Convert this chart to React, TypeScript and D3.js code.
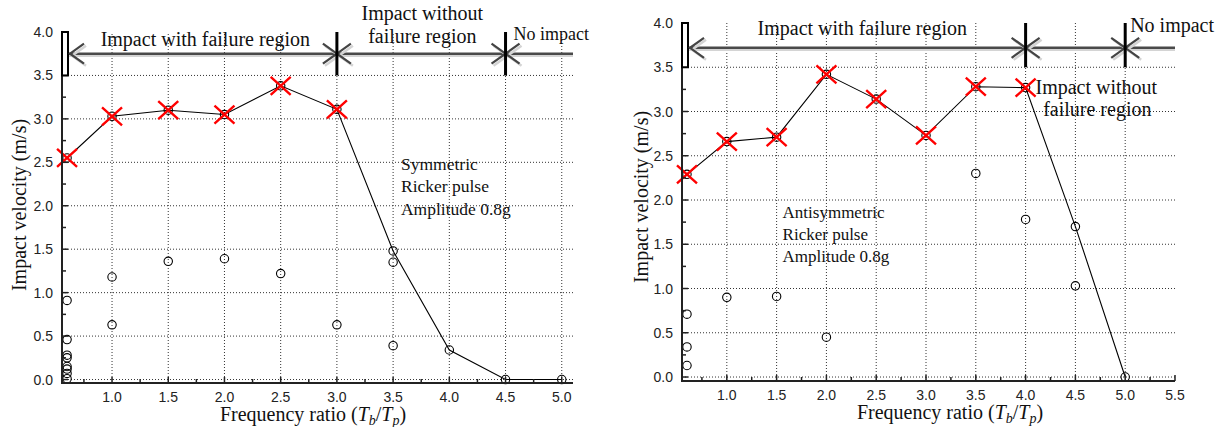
import React from "react";
import * as d3 from "d3";

// ---- data ----
const freqRatios = [0.6, 1.0, 1.5, 2.0, 2.5, 3.0, 3.5, 4.0, 4.5, 5.0];

// symmetric Ricker pulse (left)
const symLine = [2.55, 3.03, 3.1, 3.05, 3.38, 3.11, 1.48, 0.34, 0.0, 0.0];
const symFailure = [true, true, true, true, true, true, false, false, false, false];
const symScatterX = [0.6, 0.6, 0.6, 0.6, 0.6, 0.6, 0.6, 0.6, 1.0, 1.0, 1.5, 2.0, 2.5, 3.0, 3.5, 3.5];
const symScatterY = [0.91, 0.46, 0.28, 0.25, 0.15, 0.12, 0.07, 0.01, 1.18, 0.63, 1.36, 1.39, 1.22, 0.63, 1.35, 0.39];
const symBounds = [3.0, 4.5];

// antisymmetric Ricker pulse (right)
const antiLine = [2.29, 2.66, 2.71, 3.42, 3.14, 2.73, 3.28, 3.27, 1.7, 0.0];
const antiFailure = [true, true, true, true, true, true, true, true, false, false];
const antiScatterX = [0.6, 0.6, 0.6, 1.0, 1.5, 2.0, 3.5, 4.0, 4.5];
const antiScatterY = [0.71, 0.34, 0.13, 0.9, 0.91, 0.45, 2.3, 1.78, 1.03];
const antiBounds = [4.0, 5.0];

const yTicks = [0.0, 0.5, 1.0, 1.5, 2.0, 2.5, 3.0, 3.5, 4.0];
const yGrid = [0.0, 0.5, 1.0, 1.5, 2.0, 2.5, 3.0, 3.5];
const xTicksLeft = [1.0, 1.5, 2.0, 2.5, 3.0, 3.5, 4.0, 4.5, 5.0];
const xTicksRight = [1.0, 1.5, 2.0, 2.5, 3.0, 3.5, 4.0, 4.5, 5.0, 5.5];
const xGrid = [1.0, 1.5, 2.0, 2.5, 3.0, 3.5, 4.0, 4.5, 5.0];

const serif = "'Liberation Serif', 'Times New Roman', serif";
const sans = "'Liberation Sans', Arial, sans-serif";

type Note = { text: string; x: number; y: number; size: number; anchor: string };

type PanelProps = {
  left: number;
  right: number;
  top: number;
  bottom: number;
  xDomain: [number, number];
  yMin: number;
  xTicks: number[];
  line: number[];
  failure: boolean[];
  scX: number[];
  scY: number[];
  bounds: number[];
  arrowY: number;
  notes: Note[];
  yLabelX: number;
  yLabelY: number;
  xLabelX: number;
  xLabelY: number;
  tickBaseline: number;
};

const Chevron = ({ x, y, dir }: { x: number; y: number; dir: number }) => {
  // dir = -1 points left, +1 points right
  const d = `M${x - dir * 14},${y - 10} L${x},${y} L${x - dir * 14},${y + 10}`;
  return (
    <g fill="none">
      <path d={d} transform="translate(2,2)" stroke="#d4d4d4" strokeWidth={2.5} />
      <path d={d} stroke="#444" strokeWidth={2.2} />
    </g>
  );
};

const Panel = (p: PanelProps) => {
  const x = d3.scaleLinear().domain(p.xDomain).range([p.left, p.right]);
  const y = d3.scaleLinear().domain([p.yMin, 4.0]).range([p.bottom, p.top]);
  const lineGen = d3
    .line<number>()
    .x((_, i) => x(freqRatios[i]))
    .y((d) => y(d));

  const xMinor = d3.range(0.75, p.xDomain[1] + 0.001, 0.25);
  const yMinor = d3.range(0, 4.001, 0.25);
  const ay = y(p.arrowY);
  const barTop = y(4.0);
  const barBot = y(3.5);
  const x0 = p.left;

  return (
    <g>
      {/* grid */}
      {yGrid.map((v) => (
        <line key={"gy" + v} x1={p.left} x2={p.right} y1={y(v)} y2={y(v)} stroke="#333" strokeWidth={1} strokeDasharray="1,2" />
      ))}
      {xGrid.map((v) => (
        <line key={"gx" + v} x1={x(v)} x2={x(v)} y1={p.bottom} y2={p.top} stroke="#333" strokeWidth={1} strokeDasharray="1,2" />
      ))}

      {/* series */}
      <path d={lineGen(p.line) || ""} fill="none" stroke="#000" strokeWidth={1.1} />
      {p.scX.map((v, i) => (
        <circle key={"s" + i} cx={x(v)} cy={y(p.scY[i])} r={4.2} fill="none" stroke="#000" strokeWidth={1.1} />
      ))}
      {p.line.map((v, i) => (
        <circle key={"c" + i} cx={x(freqRatios[i])} cy={y(v)} r={4.2} fill="none" stroke="#000" strokeWidth={1.1} />
      ))}
      {p.line.map((v, i) =>
        p.failure[i] ? (
          <path
            key={"x" + i}
            d={`M${x(freqRatios[i]) - 10},${y(v) - 9} L${x(freqRatios[i]) + 10},${y(v) + 9} M${x(freqRatios[i]) - 10},${y(v) + 9} L${x(freqRatios[i]) + 10},${y(v) - 9}`}
            stroke="#ff0000"
            strokeWidth={2.4}
            fill="none"
          />
        ) : null
      )}

      {/* axes */}
      <line x1={x0} x2={x0} y1={p.top} y2={p.bottom + 1} stroke="#222" strokeWidth={2} />
      <line x1={x0 - 1} x2={p.right} y1={p.bottom} y2={p.bottom} stroke="#222" strokeWidth={2} />
      {yMinor.map((v, i) => (
        <line key={"yt" + i} x1={x0} x2={x0 + (i % 2 === 0 ? 6 : 4)} y1={y(v)} y2={y(v)} stroke="#222" strokeWidth={1.5} />
      ))}
      {xMinor.map((v, i) => (
        <line key={"xt" + i} x1={x(v)} x2={x(v)} y1={p.bottom} y2={p.bottom - (i % 2 === 1 ? 6 : 4)} stroke="#222" strokeWidth={1.5} />
      ))}
      {yTicks.map((v) => (
        <text key={"yl" + v} x={x0 - 9} y={y(v) + 5} textAnchor="end" fontFamily={sans} fontSize={14} fill="#222">
          {v.toFixed(1)}
        </text>
      ))}
      {p.xTicks.map((v) => (
        <text key={"xl" + v} x={x(v)} y={p.tickBaseline} textAnchor="middle" fontFamily={sans} fontSize={14} fill="#222">
          {v.toFixed(1)}
        </text>
      ))}

      {/* region arrows */}
      <line x1={x0 + 6} x2={p.right} y1={ay + 2} y2={ay + 2} stroke="#d4d4d4" strokeWidth={2.5} />
      <line x1={x0 + 6} x2={p.right} y1={ay} y2={ay} stroke="#4a4a4a" strokeWidth={2.5} />
      <rect x={x0} y={barTop} width={6} height={barBot - barTop} fill="#fff" stroke="#000" strokeWidth={2} />
      <Chevron x={x0 + 8} y={ay} dir={-1} />
      {p.bounds.map((b) => (
        <g key={"b" + b}>
          <Chevron x={x(b)} y={ay} dir={1} />
          <Chevron x={x(b)} y={ay} dir={-1} />
          <line x1={x(b)} x2={x(b)} y1={barTop} y2={barBot} stroke="#000" strokeWidth={3} />
        </g>
      ))}

      {/* annotations */}
      {p.notes.map((n, i) => (
        <text key={"n" + i} x={x(n.x)} y={y(n.y)} textAnchor={n.anchor} fontFamily={serif} fontSize={n.size} fill="#111">
          {n.text}
        </text>
      ))}

      {/* axis titles */}
      <text
        transform={`translate(${p.yLabelX},${p.yLabelY}) rotate(-90)`}
        textAnchor="middle"
        fontFamily={serif}
        fontSize={20}
        fill="#111"
      >
        Impact velocity (m/s)
      </text>
      <text x={p.xLabelX} y={p.xLabelY} textAnchor="middle" fontFamily={serif} fontSize={20} fill="#111">
        Frequency ratio (<tspan fontStyle="italic">T</tspan>
        <tspan fontStyle="italic" fontSize={14} dy={4}>b</tspan>
        <tspan dy={-4}>/</tspan>
        <tspan fontStyle="italic">T</tspan>
        <tspan fontStyle="italic" fontSize={14} dy={4}>p</tspan>
        <tspan dy={-4}>)</tspan>
      </text>
    </g>
  );
};

const symNotes: Note[] = [
  { text: "Impact with failure region", x: 1.83, y: 3.84, size: 20, anchor: "middle" },
  { text: "Impact without", x: 3.76, y: 4.14, size: 20, anchor: "middle" },
  { text: "failure region", x: 3.76, y: 3.87, size: 20, anchor: "middle" },
  { text: "No impact", x: 4.57, y: 3.91, size: 18, anchor: "start" },
  { text: "Symmetric", x: 3.57, y: 2.41, size: 17.5, anchor: "start" },
  { text: "Ricker pulse", x: 3.57, y: 2.16, size: 17.5, anchor: "start" },
  { text: "Amplitude 0.8g", x: 3.57, y: 1.89, size: 17.5, anchor: "start" },
];

const antiNotes: Note[] = [
  { text: "Impact with failure region", x: 2.36, y: 3.865, size: 20, anchor: "middle" },
  { text: "No impact", x: 5.05, y: 3.9, size: 20, anchor: "start" },
  { text: "Impact without", x: 4.71, y: 3.2, size: 20, anchor: "middle" },
  { text: "failure region", x: 4.72, y: 2.95, size: 20, anchor: "middle" },
  { text: "Antisymmetric", x: 1.56, y: 1.8, size: 17, anchor: "start" },
  { text: "Ricker pulse", x: 1.56, y: 1.55, size: 17, anchor: "start" },
  { text: "Amplitude 0.8g", x: 1.56, y: 1.3, size: 17, anchor: "start" },
];

export default function App() {
  return (
    <svg
      width={1225}
      height={427}
      style={{ position: "absolute", left: 0, top: 0, background: "#fff" }}
    >
      <Panel
        left={62}
        right={573}
        top={32}
        bottom={383}
        xDomain={[0.555, 5.1]}
        yMin={-0.04}
        xTicks={xTicksLeft}
        line={symLine}
        failure={symFailure}
        scX={symScatterX}
        scY={symScatterY}
        bounds={symBounds}
        arrowY={3.75}
        notes={symNotes}
        yLabelX={26}
        yLabelY={205}
        xLabelX={313}
        xLabelY={421}
        tickBaseline={402}
      />
      <Panel
        left={682}
        right={1175}
        top={23}
        bottom={381}
        xDomain={[0.55, 5.5]}
        yMin={-0.045}
        xTicks={xTicksRight}
        line={antiLine}
        failure={antiFailure}
        scX={antiScatterX}
        scY={antiScatterY}
        bounds={antiBounds}
        arrowY={3.72}
        notes={antiNotes}
        yLabelX={648}
        yLabelY={197}
        xLabelX={950}
        xLabelY={419}
        tickBaseline={400}
      />
    </svg>
  );
}
